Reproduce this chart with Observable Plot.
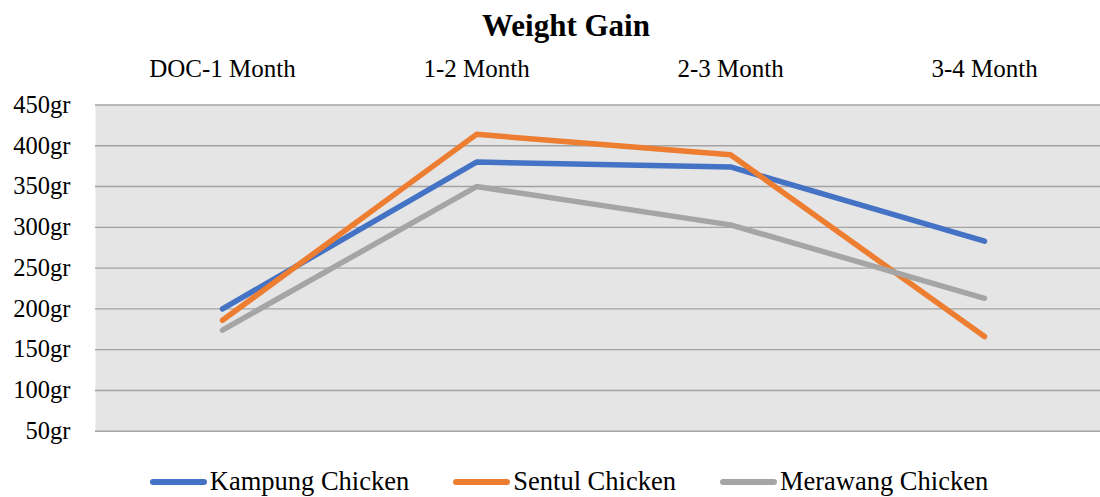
<!DOCTYPE html>
<html>
<head>
<meta charset="utf-8">
<script src="https://cdn.jsdelivr.net/npm/d3@7"></script>
<script src="https://cdn.jsdelivr.net/npm/@observablehq/plot@0.6"></script>
<style>
  html, body { margin: 0; padding: 0; overflow: hidden; background: #fff; }
  #wrap { width: 1100px; height: 497px; position: relative; font-family: "Liberation Serif", serif; color: #000; }
  #title { width: 1100px; height: 44px; box-sizing: border-box; padding-left: 32px; text-align: center; font-weight: bold; font-size: 31px; line-height: 52px; overflow: visible; }
  #chart svg { display: block; }
  #legend { width: 1100px; height: 43px; box-sizing: border-box; padding-left: 38px; display: flex; justify-content: center; gap: 44px; font-size: 26.5px; line-height: 54px; white-space: nowrap; }
  .item { display: inline-block; }
  .sw { display: inline-block; width: 57px; height: 6px; border-radius: 3px; vertical-align: 5.5px; margin-right: 3px; }
</style>
</head>
<body>
<div id="wrap">
  <div id="title">Weight Gain</div>
  <div id="chart"></div>
  <div id="legend"></div>
</div>
<script>
const categories = ["DOC-1 Month", "1-2 Month", "2-3 Month", "3-4 Month"];
const seriesNames = ["Kampung Chicken", "Sentul Chicken", "Merawang Chicken"];
const kampung = [200, 380, 374, 283];
const sentul = [186, 414, 389, 166];
const merawang = [174, 350, 303, 213];
const seriesColors = ["#4472C4", "#ED7D31", "#A5A5A5"];
const yTicks = [50, 100, 150, 200, 250, 300, 350, 400, 450];

const seriesValues = [kampung, sentul, merawang];
const rows = [];
seriesNames.forEach((name, i) => {
  categories.forEach((c, j) => rows.push({series: name, period: c, value: seriesValues[i][j]}));
});

const chart = Plot.plot({
  width: 1100,
  height: 410,
  marginTop: 60.5,
  marginBottom: 23.3,
  marginLeft: 95,
  marginRight: 0,
  style: {fontFamily: "Liberation Serif", fontSize: "25px", color: "#000", background: "#fff"},
  x: {type: "point", domain: categories, range: [221, 984], padding: 0},
  y: {domain: [50, 450]},
  color: {domain: seriesNames, range: seriesColors},
  marks: [
    Plot.frame({fill: "#e5e5e5", stroke: "none"}),
    Plot.gridY(yTicks, {stroke: "#a3a3a3", strokeOpacity: 1, strokeWidth: 1.4}),
    Plot.axisX({anchor: "top", tickSize: 0, tickPadding: 28.5, label: null, fontSize: 25}),
    Plot.axisY(yTicks, {tickSize: 0, tickPadding: 25, label: null, tickFormat: d => d + "gr", fontSize: 24.5}),
    Plot.line(rows, {x: "period", y: "value", z: "series", stroke: "series", strokeWidth: 5.5, strokeLinecap: "round", strokeLinejoin: "round"})
  ]
});
document.getElementById("chart").appendChild(chart);

const legend = document.getElementById("legend");
seriesNames.forEach((name, i) => {
  const item = document.createElement("span");
  item.className = "item";
  const sw = document.createElement("span");
  sw.className = "sw";
  sw.style.background = seriesColors[i];
  item.appendChild(sw);
  item.appendChild(document.createTextNode(name));
  legend.appendChild(item);
});
</script>
</body>
</html>
